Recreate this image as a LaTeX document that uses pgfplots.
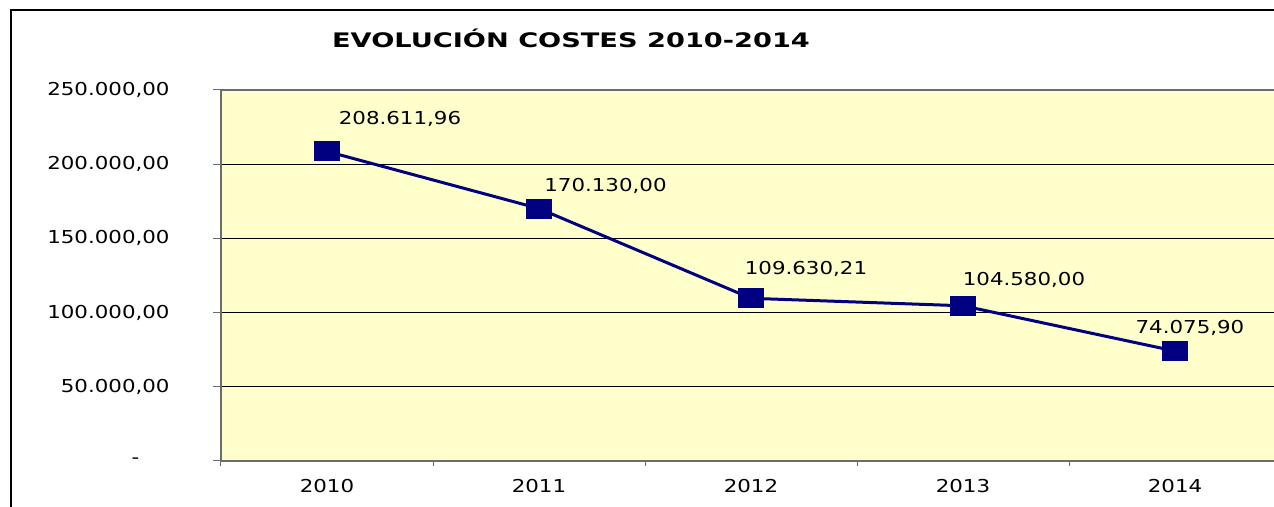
\documentclass[border=0pt]{standalone}
\usepackage{pgfplots}
\pgfplotsset{compat=1.18}
\usepackage{fontspec}
\setmainfont{DejaVu Sans}[FakeStretch=1.2]
\newfontfamily\titlefont{DejaVu Sans}[FakeStretch=1.36]
\definecolor{navyc}{RGB}{0,0,128}
\definecolor{plotbg}{RGB}{255,255,204}
\newcommand\lblfont{\fontsize{8.9}{10}\selectfont}
\begin{document}
\begin{tikzpicture}
\draw[black, line width=0.75pt] (5.5pt,-10pt) -- (5.5pt,248.5pt) -- (660pt,248.5pt);
\node[font=\titlefont\fontsize{10}{12}\selectfont\bfseries] at (285.5pt,234.5pt) {EVOLUCIÓN COSTES 2010-2014};
\begin{axis}[
  at={(110.5pt,23pt)}, anchor=south west,
  scale only axis, width=530pt, height=185.5pt,
  xmin=-0.5, xmax=4.5, ymin=0, ymax=250000,
  scaled y ticks=false,
  axis background/.style={fill=plotbg},
  axis line style={draw=gray!85!black, line width=0.6pt},
  xtick={0,1,2,3,4}, xticklabels={2010,2011,2012,2013,2014},
  minor xtick={-0.5,0.5,1.5,2.5,3.5,4.5},
  major x tick style={draw=none},
  minor tick length=2.5pt, major tick length=4pt,
  tick align=outside, tick pos=left,
  tick style={gray!85!black, line width=0.5pt},
  ytick={50000,100000,150000,200000},
  yticklabels={{50.000,00},{100.000,00},{150.000,00},{200.000,00}},
  extra y ticks={0,250000},
  extra y tick labels={{\makebox[19pt][l]{-}},{250.000,00}},
  extra y tick style={grid=none},
  ymajorgrids, major grid style={black, line width=0.5pt},
  xticklabel style={font=\lblfont, yshift=-1.5pt},
  yticklabel style={font=\lblfont, anchor=east, inner sep=0pt, xshift=-21.5pt},
  point meta=explicit symbolic,
  nodes near coords,
  visualization depends on={value \thisrow{dx} \as \dx},
  visualization depends on={value \thisrow{dy} \as \dy},
  nodes near coords style={anchor=base, xshift=\dx pt, yshift=\dy pt, inner sep=0pt, font=\lblfont, text=black},
]
\addplot[navyc, line width=1.5pt, mark=square*, mark size=4.75pt, mark options={solid, line width=0.5pt, xscale=1.3}] table[x=x, y=y, meta=label] {
x y label dx dy
0 208611.96 208.611,96 36.5 13.25
1 170130.00 170.130,00 33.25 8.75
2 109630.21 109.630,21 27.5 12
3 104580.00 104.580,00 30.5 10.25
4 74075.90 74.075,90 7.5 9
};
\end{axis}
\pgfresetboundingbox
\useasboundingbox (0,0) rectangle (637pt,253.5pt);
\end{tikzpicture}
\end{document}
